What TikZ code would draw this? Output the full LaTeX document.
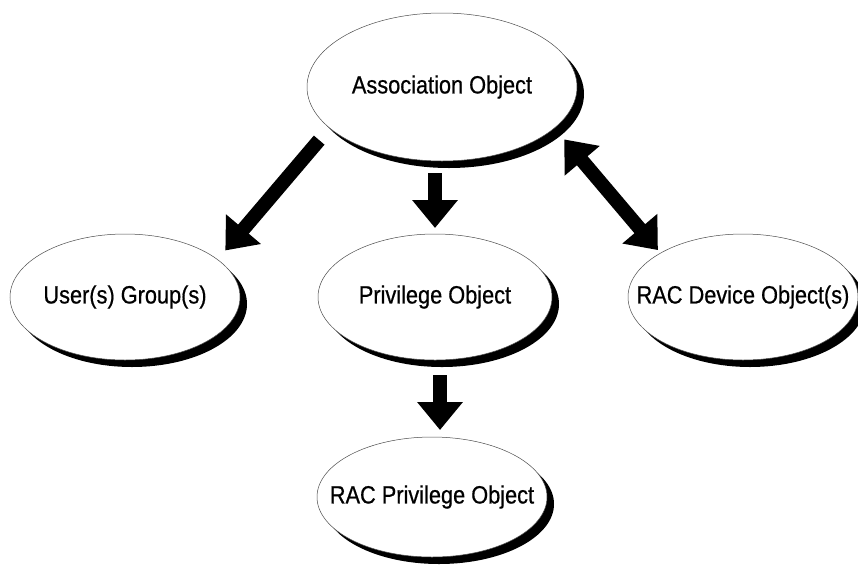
\documentclass[tikz,border=0pt]{standalone}
\usepackage{fontspec}
\setmainfont{Liberation Sans}[FakeStretch=0.87, FakeBold=0.6]
\usetikzlibrary{positioning, arrows.meta, shapes.geometric, shadows}

\newcommand{\objtext}[1]{\makebox[60pt]{#1}}

\begin{document}
\begin{tikzpicture}[
        x=1pt, y=1pt,
        node distance=77pt,
        object/.style={ellipse, draw=black!70, line width=0.5pt, fill=white, outer sep=0pt, inner sep=0pt, minimum width=230pt, minimum height=126pt, font=\fontsize{25}{30}\selectfont, drop shadow={shadow xshift=7pt, shadow yshift=-7pt, fill=black, opacity=1}},
        arrow/.style={line width=14pt, -{Triangle[width=44pt, length=28pt]}},
        twoway/.style={line width=14pt, {Triangle[width=44pt, length=28pt]}-{Triangle[width=44pt, length=28pt]}}
    ]
    \useasboundingbox (0,0) rectangle (858,-568);
    \node[object, minimum width=270pt, minimum height=148pt] (assoc) at (442,-87) {\objtext{Association Object}};
    \node[object, minimum width=234pt] (priv) at (435,-297) {\objtext{Privilege Object}};
    \node[object, left=78pt of priv] (users) {\objtext{User(s) Group(s)}};
    \node[object, right=76pt of priv] (device) {\objtext{RAC Device Object(s)}};
    \node[object, minimum height=120pt, below=of priv, xshift=-3pt] (racpriv) {\objtext{RAC Privilege Object}};

    \draw[arrow, shorten <=16pt, shorten >=12pt] (assoc.200) -- (users.22);
    \draw[arrow, shorten <=12pt, shorten >=6pt] (priv.north |- assoc.south) -- (priv.north);
    \draw[arrow, shorten <=15pt, shorten >=7pt] ([xshift=5pt]priv.south) -- ([xshift=5pt]priv.south |- racpriv.north);
    \draw[twoway, shorten <=15pt, shorten >=4pt] (assoc.340) -- (device.152);
    \end{tikzpicture}
\end{document}
